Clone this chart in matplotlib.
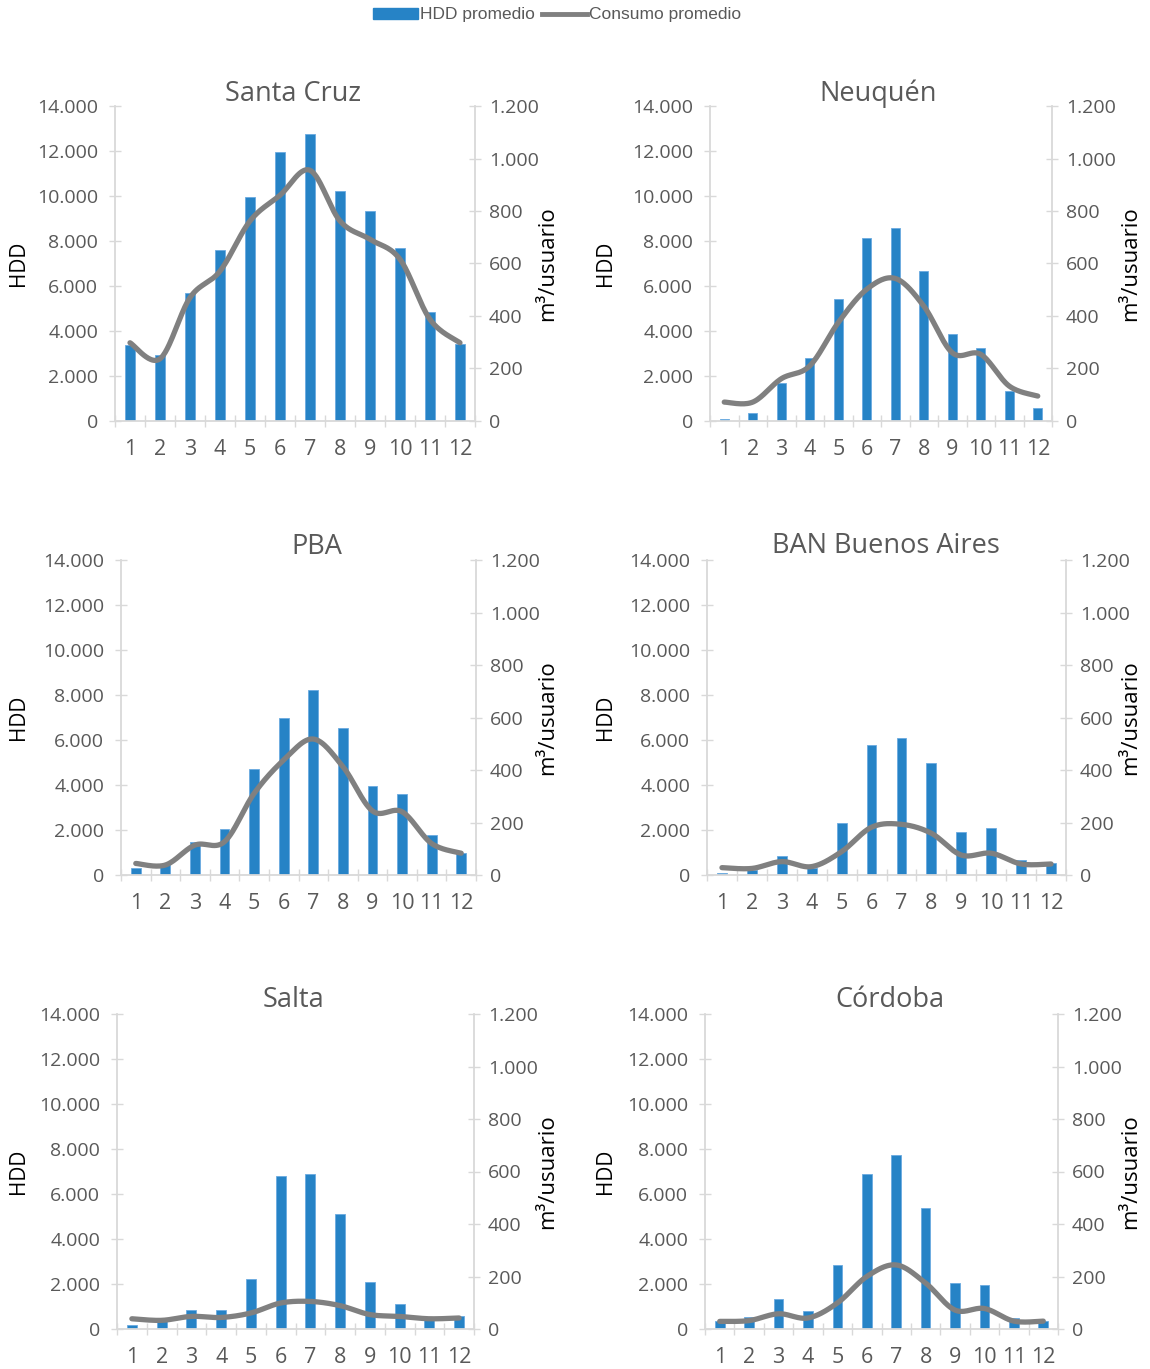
import numpy as np
import matplotlib.pyplot as plt
from matplotlib.ticker import FuncFormatter, FixedLocator
from matplotlib.patches import Patch
from matplotlib.lines import Line2D

# ----------------------------
# Data
# ----------------------------
months = np.arange(1, 13)

regions = ["Santa Cruz", "Neuquén", "PBA", "BAN Buenos Aires", "Salta", "Córdoba"]

hdd_santa_cruz = [3360, 2920, 5670, 7610, 9960, 11970, 12740, 10240, 9350, 7700, 4860, 3410]
hdd_neuquen    = [100, 370, 1670, 2810, 5410, 8120, 8560, 6680, 3850, 3260, 1330, 560]
hdd_pba        = [330, 450, 1470, 2040, 4710, 6960, 8240, 6530, 3970, 3600, 1780, 990]
hdd_ban        = [100, 220, 840, 300, 2330, 5760, 6100, 4980, 1930, 2070, 670, 530]
hdd_salta      = [180, 340, 860, 830, 2230, 6780, 6910, 5120, 2090, 1120, 400, 590]
hdd_cordoba    = [340, 530, 1320, 780, 2840, 6870, 7740, 5390, 2050, 1950, 490, 340]

cons_santa_cruz = [298, 237, 470, 571, 762, 860, 955, 762, 692, 616, 387, 298]
cons_neuquen    = [72, 72, 161, 210, 375, 502, 543, 438, 260, 254, 133, 95]
cons_pba        = [44, 38, 114, 127, 311, 438, 518, 413, 244, 241, 120, 83]
cons_ban        = [28, 25, 51, 32, 89, 182, 193, 159, 76, 83, 42, 42]
cons_salta      = [39, 33, 48, 44, 61, 99, 105, 89, 55, 48, 39, 42]
cons_cordoba    = [29, 32, 58, 42, 99, 200, 244, 175, 72, 78, 30, 30]

hdd_all = [hdd_santa_cruz, hdd_neuquen, hdd_pba, hdd_ban, hdd_salta, hdd_cordoba]
cons_all = [cons_santa_cruz, cons_neuquen, cons_pba, cons_ban, cons_salta, cons_cordoba]

# ----------------------------
# Style
# ----------------------------
W, H = 1150, 1369
plt.rcParams["font.family"] = ["Open Sans", "DejaVu Sans"]

BLUE = "#2683C6"
GRAY_LINE = "#808080"
AXIS_GRAY = "#D9D9D9"
TEXT = "#595959"

# panel boxes in pixels: left, right, top, bottom
boxes = [
    (115, 475, 106, 421),
    (710, 1052, 106, 421),
    (121, 476, 560, 875),
    (707, 1066, 560, 875),
    (117, 474, 1014, 1329),
    (705, 1058, 1014, 1329),
]
# title centres (px)
title_pos = [(293, 94), (878, 94), (317, 547), (886, 546), (293, 1000), (890, 1000)]
hdd_label_x = [29, 616, 29, 616, 29, 616]
cons_label_x = [537, 1120, 537, 1120, 537, 1120]


def thousands(v, _):
    return f"{int(round(v)):,}".replace(",", ".")


def smooth(x, y, n=30):
    # Excel-like smoothed line (Catmull-Rom bezier)
    x = np.asarray(x, float)
    y = np.asarray(y, float)
    pts = np.column_stack([x, y])
    out = []
    t = np.linspace(0, 1, n)[:, None]
    for i in range(len(pts) - 1):
        p0 = pts[max(i - 1, 0)]
        p1 = pts[i]
        p2 = pts[i + 1]
        p3 = pts[min(i + 2, len(pts) - 1)]
        c1 = p1 + (p2 - p0) / 6
        c2 = p2 - (p3 - p1) / 6
        seg = ((1 - t) ** 3) * p1 + 3 * ((1 - t) ** 2) * t * c1 + 3 * (1 - t) * t ** 2 * c2 + t ** 3 * p2
        out.append(seg if i == 0 else seg[1:])
    out = np.vstack(out)
    return out[:, 0], out[:, 1]


fig = plt.figure(figsize=(W / 100, H / 100), dpi=100)

for k, name in enumerate(regions):
    l, r, t, b = boxes[k]
    ax = fig.add_axes([l / W, 1 - b / H, (r - l) / W, (b - t) / H])
    ax2 = ax.twinx()

    ax.bar(months, hdd_all[k], width=0.33, color=BLUE, edgecolor="#6AAAE0",
           linewidth=0.6, zorder=2)
    xs, ys = smooth(months, cons_all[k])
    ax2.plot(xs, ys, color=GRAY_LINE, lw=3.8, solid_capstyle="round", zorder=3)

    ax.set_xlim(0.5, 12.5)
    ax.set_ylim(0, 14000)
    ax2.set_ylim(0, 1200)

    ax.set_yticks(np.arange(0, 14001, 2000))
    ax2.set_yticks(np.arange(0, 1201, 200))
    ax.yaxis.set_major_formatter(FuncFormatter(thousands))
    ax2.yaxis.set_major_formatter(FuncFormatter(thousands))

    ax.set_xticks(months)
    ax.set_xticklabels([str(m) for m in months])
    ax.xaxis.set_minor_locator(FixedLocator(np.arange(0.5, 13, 1)))

    for a in (ax, ax2):
        a.spines["top"].set_visible(False)
        for s in ("left", "right", "bottom"):
            a.spines[s].set_color(AXIS_GRAY)
            a.spines[s].set_linewidth(1.3)
    ax.spines["right"].set_visible(False)
    ax2.spines["left"].set_visible(False)
    ax2.spines["bottom"].set_visible(False)

    ax.tick_params(axis="y", direction="inout", length=8, width=1, color=AXIS_GRAY,
                   labelcolor=TEXT, labelsize=14, pad=8)
    ax2.tick_params(axis="y", direction="inout", length=8, width=1, color=AXIS_GRAY,
                    labelcolor=TEXT, labelsize=14, pad=6)
    ax.tick_params(axis="x", which="major", length=0, labelcolor=TEXT, labelsize=15.5, pad=13)
    ax.tick_params(axis="x", which="minor", direction="inout", length=8, width=1,
                   color=AXIS_GRAY)

    ax.set_ylabel("HDD", fontsize=15, color="black")
    ax.yaxis.set_label_coords(hdd_label_x[k] / W, 1 - (t + b) / 2 / H, transform=fig.transFigure)
    ax2.set_ylabel("m³/usuario", fontsize=16, color="black")
    ax2.yaxis.set_label_coords(cons_label_x[k] / W, 1 - (t + b) / 2 / H, transform=fig.transFigure)

    tx, ty = title_pos[k]
    fig.text(tx / W, 1 - ty / H, name, ha="center", va="center", fontsize=19.5, color=TEXT)

handles = [
    Patch(facecolor=BLUE, edgecolor=BLUE),
    Line2D([0], [0], color=GRAY_LINE, lw=3.5),
]
fig.legend(handles, ["HDD promedio", "Consumo promedio"], loc="center",
           bbox_to_anchor=(557 / W, 1 - 15 / H), ncol=2, frameon=False,
           handlelength=2.6, handleheight=0.6, handletextpad=0.1, columnspacing=0.4,
           prop={"family": ["Liberation Sans Narrow", "Liberation Sans"], "size": 12.5},
           labelcolor=TEXT)

fig.savefig("out.png", dpi=100)
